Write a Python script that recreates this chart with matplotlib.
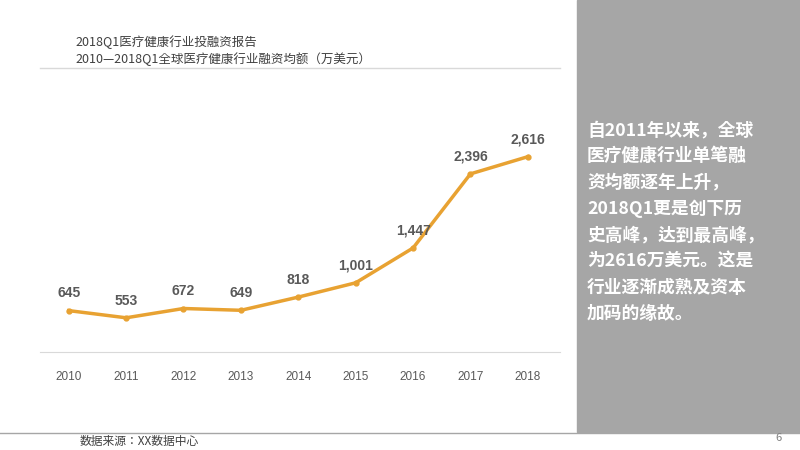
import matplotlib
matplotlib.use("Agg")
import matplotlib.pyplot as plt
from matplotlib import font_manager

names = {f.name for f in font_manager.fontManager.ttflist}
cjk = [n for n in ['Noto Sans CJK SC', 'Noto Sans CJK JP', 'Noto Sans CJK TC', 'Noto Sans CJK KR'] if n in names]
plt.rcParams['font.family'] = 'sans-serif'
plt.rcParams['font.sans-serif'] = cjk + ['DejaVu Sans']

years = [2010, 2011, 2012, 2013, 2014, 2015, 2016, 2017, 2018]
values = [645, 553, 672, 649, 818, 1001, 1447, 2396, 2616]
labels = ["645", "553", "672", "649", "818", "1,001", "1,447", "2,396", "2,616"]

W, H = 800, 450
fig = plt.figure(figsize=(8, 4.5), dpi=100)
fig.patch.set_facecolor('white')

def fx(px): return px / W
def fy(py): return 1 - py / H

ax = fig.add_axes([fx(40), fy(352), fx(520), (352 - 70) / H])
ax.plot(years, values, color='#E8A232', lw=2.5, marker='o', ms=3.5)
for x, v, l in zip(years, values, labels):
    ax.text(x, v + 130, l, ha='center', va='bottom', fontsize=10, fontweight='bold', color='#595959',
            family='Liberation Sans')
ax.set_xlim(2009.5, 2018.56)
ax.set_ylim(115, 3726)
ax.set_yticks([])
ax.set_xticks(years)
ax.set_xticklabels([str(y) for y in years], fontsize=8.5, color='#595959', family='Liberation Sans')
ax.tick_params(axis='x', length=0, pad=14)
for s in ['top', 'left', 'right']:
    ax.spines[s].set_visible(False)
ax.spines['bottom'].set_color('#d9d9d9')

fig.add_artist(plt.Line2D([fx(40), fx(560)], [fy(68), fy(68)], color='#d9d9d9', lw=1))
fig.text(fx(75), fy(42), "2018Q1医疗健康行业投融资报告", fontsize=9, color='#404040', va='center')
fig.text(fx(75), fy(59), "2010—2018Q1全球医疗健康行业融资均额（万美元）", fontsize=9, color='#404040', va='center')

fig.patches.append(plt.Rectangle((fx(577), fy(432)), fx(223), 432 / H, transform=fig.transFigure,
                                 color='#a6a6a6', zorder=0))
lines = ["自2011年以来，全球", "医疗健康行业单笔融", "资均额逐年上升，", "2018Q1更是创下历",
         "史高峰，达到最高峰，", "为2616万美元。这是", "行业逐渐成熟及资本", "加码的缘故。"]
for i, t in enumerate(lines):
    fig.text(fx(587), fy(130 + i * 26.3), t, fontsize=12.8, color='white', fontweight='bold', va='center')

fig.add_artist(plt.Line2D([0, 1], [fy(433), fy(433)], color='#a6a6a6', lw=1))
fig.text(fx(80), fy(442), "数据来源：XX数据中心", fontsize=8.5, color='#404040', va='center')
fig.text(fx(775), fy(438), "6", fontsize=8, color='#808080', va='center')

fig.savefig("out.png", dpi=100)
